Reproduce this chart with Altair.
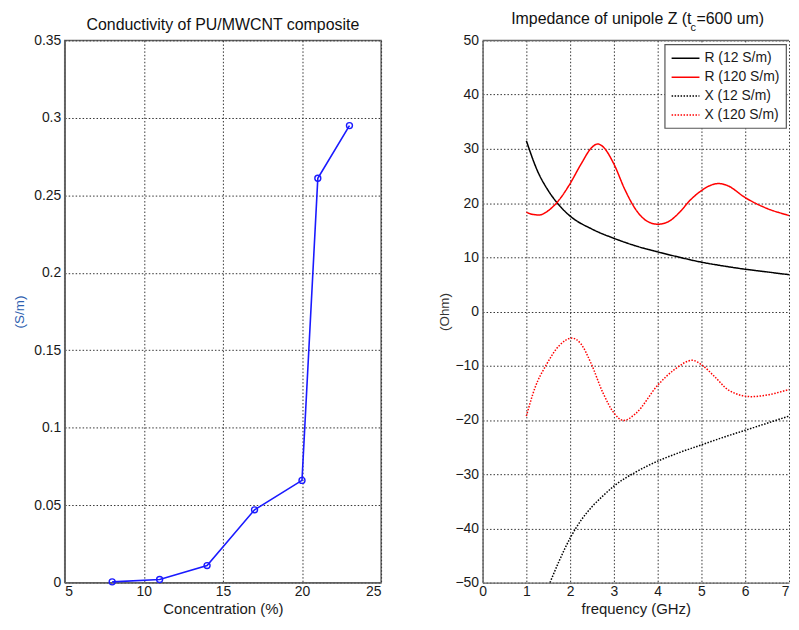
import altair as alt
import pandas as pd

FONT = "Liberation Sans"

# ---- Left panel data: conductivity vs concentration ----
conc = [8, 11, 14, 17, 20, 21, 23]
sigma = [0.0005, 0.002, 0.011, 0.047, 0.066, 0.261, 0.295]

# ---- Right panel data: impedance vs frequency ----
f_r12 = [1.0, 1.25, 1.5, 1.75, 2.0, 2.5, 3.0, 3.5, 4.0, 4.5, 5.0, 5.5, 6.0, 6.5, 7.0, 7.4]
v_r12 = [31.5, 26.0, 22.3, 19.6, 17.6, 15.2, 13.5, 12.1, 11.0, 10.0, 9.1, 8.4, 7.8, 7.3, 6.8, 6.5]

f_r120 = [1.0, 1.15, 1.3, 1.5, 1.75, 2.0, 2.25, 2.5, 2.63, 2.75, 3.0, 3.25, 3.5, 3.75, 4.0,
          4.25, 4.5, 4.75, 5.0, 5.25, 5.4, 5.6, 6.0, 6.5, 7.0, 7.3]
v_r120 = [18.3, 17.9, 17.8, 18.6, 20.6, 23.6, 27.2, 30.3, 30.9, 30.4, 27.2, 22.5, 18.8, 16.7, 16.1,
          16.6, 18.3, 20.6, 22.3, 23.4, 23.6, 23.2, 21.0, 19.0, 17.7, 17.0]

f_x12 = [1.54, 1.75, 2.0, 2.25, 2.5, 2.75, 3.0, 3.5, 4.0, 4.5, 5.0, 5.5, 6.0, 6.5, 7.0, 7.3]
v_x12 = [-50.0, -46.0, -41.8, -38.5, -36.0, -34.0, -32.2, -29.6, -27.6, -26.0, -24.6, -23.2, -21.9, -20.6, -19.3, -18.6]

f_x120 = [1.0, 1.2, 1.45, 1.75, 2.04, 2.25, 2.48, 2.75, 3.0, 3.22, 3.5, 4.0, 4.4, 4.79, 5.0,
          5.3, 5.62, 6.13, 6.5, 7.0, 7.3]
v_x120 = [-19.3, -14.0, -9.9, -6.3, -4.9, -6.0, -9.6, -15.0, -18.7, -20.1, -18.8, -13.6, -10.6, -9.0, -9.8,
          -12.0, -14.5, -15.7, -15.4, -14.4, -13.8]

names = ["R (12 S/m)", "R (120 S/m)", "X (12 S/m)", "X (120 S/m)"]
colors = ["#000000", "#ff0000", "#000000", "#ff0000"]
dashes = [[1, 0], [1, 0], [1.5, 1.5], [1.5, 1.5]]

x_ticks_left = [5, 10, 15, 20, 25]
y_ticks_left = [0, 0.05, 0.1, 0.15, 0.2, 0.25, 0.3, 0.35]
x_ticks_right = [0, 1, 2, 3, 4, 5, 6, 7]
y_ticks_right = [-50, -40, -30, -20, -10, 0, 10, 20, 30, 40, 50]

df_left = pd.DataFrame({"c": conc, "s": sigma})

rows = []
for name, fs, vs in zip(names, [f_r12, f_r120, f_x12, f_x120], [v_r12, v_r120, v_x12, v_x120]):
    for i, (f, v) in enumerate(zip(fs, vs)):
        rows.append({"series": name, "f": f, "v": v, "o": i})
df_right = pd.DataFrame(rows)

W_L, W_R, H = 318, 308, 545
SPACING = 55
LEGEND_X = 603  # legend box left edge, relative to the left plot's origin

axis_common = dict(
    grid=True, gridColor="#333333", gridDash=[1.5, 2], gridWidth=1,
    domainColor="#666666", domainWidth=1.5, ticks=False,
    labelFont=FONT, labelFontSize=14, labelColor="#1a1a1a",
    titleFont=FONT, titleFontWeight="normal",
)

left_line = alt.Chart(df_left).mark_line(
    color="#1a1aff", strokeWidth=1.6,
    point=alt.OverlayMarkDef(shape="circle", filled=False, size=36, color="#1a1aff", strokeWidth=1.4),
).encode(
    x=alt.X("c:Q", scale=alt.Scale(domain=[5, 25], nice=False, zero=False),
            axis=alt.Axis(values=x_ticks_left, title="Concentration (%)", labelPadding=2,
                          titleFontSize=15, titleColor="#1a1a1a", titleY=31.5,
                          titleBaseline="alphabetic", **axis_common)),
    y=alt.Y("s:Q", scale=alt.Scale(domain=[0, 0.35], nice=False),
            axis=alt.Axis(values=y_ticks_left, format="~g", title="(S/m)", labelPadding=4,
                          titleFontSize=13.5, titleColor="#2e5fb0", titleX=-45.5, titleY=H / 2,
                          titleBaseline="middle", **axis_common)),
)

left_title = alt.Chart(pd.DataFrame({"t": ["Conductivity of PU/MWCNT composite"]})).mark_text(
    font=FONT, fontSize=16, align="center", baseline="alphabetic", color="#111111"
).encode(x=alt.value(W_L / 2), y=alt.value(-10.5), text="t:N")

left = alt.layer(left_line, left_title).properties(width=W_L, height=H)

legend_props = dict(
    title=None, orient="none", legendX=LEGEND_X, legendY=4,
    fillColor="white", strokeColor="#555555", padding=6,
    symbolType="M-1,0H3", symbolSize=196, symbolStrokeWidth=1.5,
    labelFont=FONT, labelFontSize=14, labelColor="#1a1a1a", labelOffset=18,
    rowPadding=4,
)

x_axis_right = alt.Axis(
    values=x_ticks_right, title="frequency (GHz)", labelPadding=2,
    labelAlign={"condition": {"test": "datum.value == 7", "value": "right"}, "value": "center"},
    titleFontSize=15, titleColor="#1a1a1a", titleY=31.5, titleBaseline="alphabetic", **axis_common,
)

right_lines = alt.Chart(df_right).mark_line(strokeWidth=1.5, clip=True, interpolate="monotone").encode(
    x=alt.X("f:Q", scale=alt.Scale(domain=[0, 7], nice=False), axis=x_axis_right),
    y=alt.Y("v:Q", scale=alt.Scale(domain=[-50, 50], nice=False),
            axis=alt.Axis(values=y_ticks_right, title="(Ohm)", labelPadding=4,
                          titleFontSize=13.5, titleColor="#333333", titleX=-38, titleY=H / 2,
                          titleBaseline="middle", **axis_common)),
    color=alt.Color("series:N", scale=alt.Scale(domain=names, range=colors), legend=alt.Legend(**legend_props)),
    strokeDash=alt.StrokeDash("series:N", scale=alt.Scale(domain=names, range=dashes), legend=alt.Legend(**legend_props)),
    order="o:Q",
)

# top border of the right axes box (its right side lies at the picture's edge)
top_border = alt.Chart(pd.DataFrame({"k": [0]})).mark_rule(color="#666666", strokeWidth=1.5).encode(
    x=alt.value(0), x2=alt.value(W_R), y=alt.value(0)
)

CX = W_R / 2
t1 = alt.Chart(pd.DataFrame({"t": ["Impedance of unipole Z (t"]})).mark_text(
    font=FONT, fontSize=16, align="right", baseline="alphabetic", color="#111111"
).encode(x=alt.value(CX + 56), y=alt.value(-16), text="t:N")
t2 = alt.Chart(pd.DataFrame({"t": ["c"]})).mark_text(
    font=FONT, fontSize=11, align="left", baseline="alphabetic", color="#111111"
).encode(x=alt.value(CX + 55), y=alt.value(-9), text="t:N")
t3 = alt.Chart(pd.DataFrame({"t": ["=600 um)"]})).mark_text(
    font=FONT, fontSize=16, align="left", baseline="alphabetic", color="#111111"
).encode(x=alt.value(CX + 61), y=alt.value(-16), text="t:N")

right = alt.layer(right_lines, top_border, t1, t2, t3).properties(
    width=W_R, height=H, view=alt.ViewBackground(stroke="transparent")
)

chart = alt.hconcat(left, right, spacing=SPACING).properties(
    padding={"left": 3, "top": 1, "right": 0, "bottom": 0},
    background="white",
).configure_view(stroke="#666666", strokeWidth=1.5).configure_legend(strokeWidth=1.2)

chart.save("out.html", embed_options={"renderer": "svg", "actions": False})
